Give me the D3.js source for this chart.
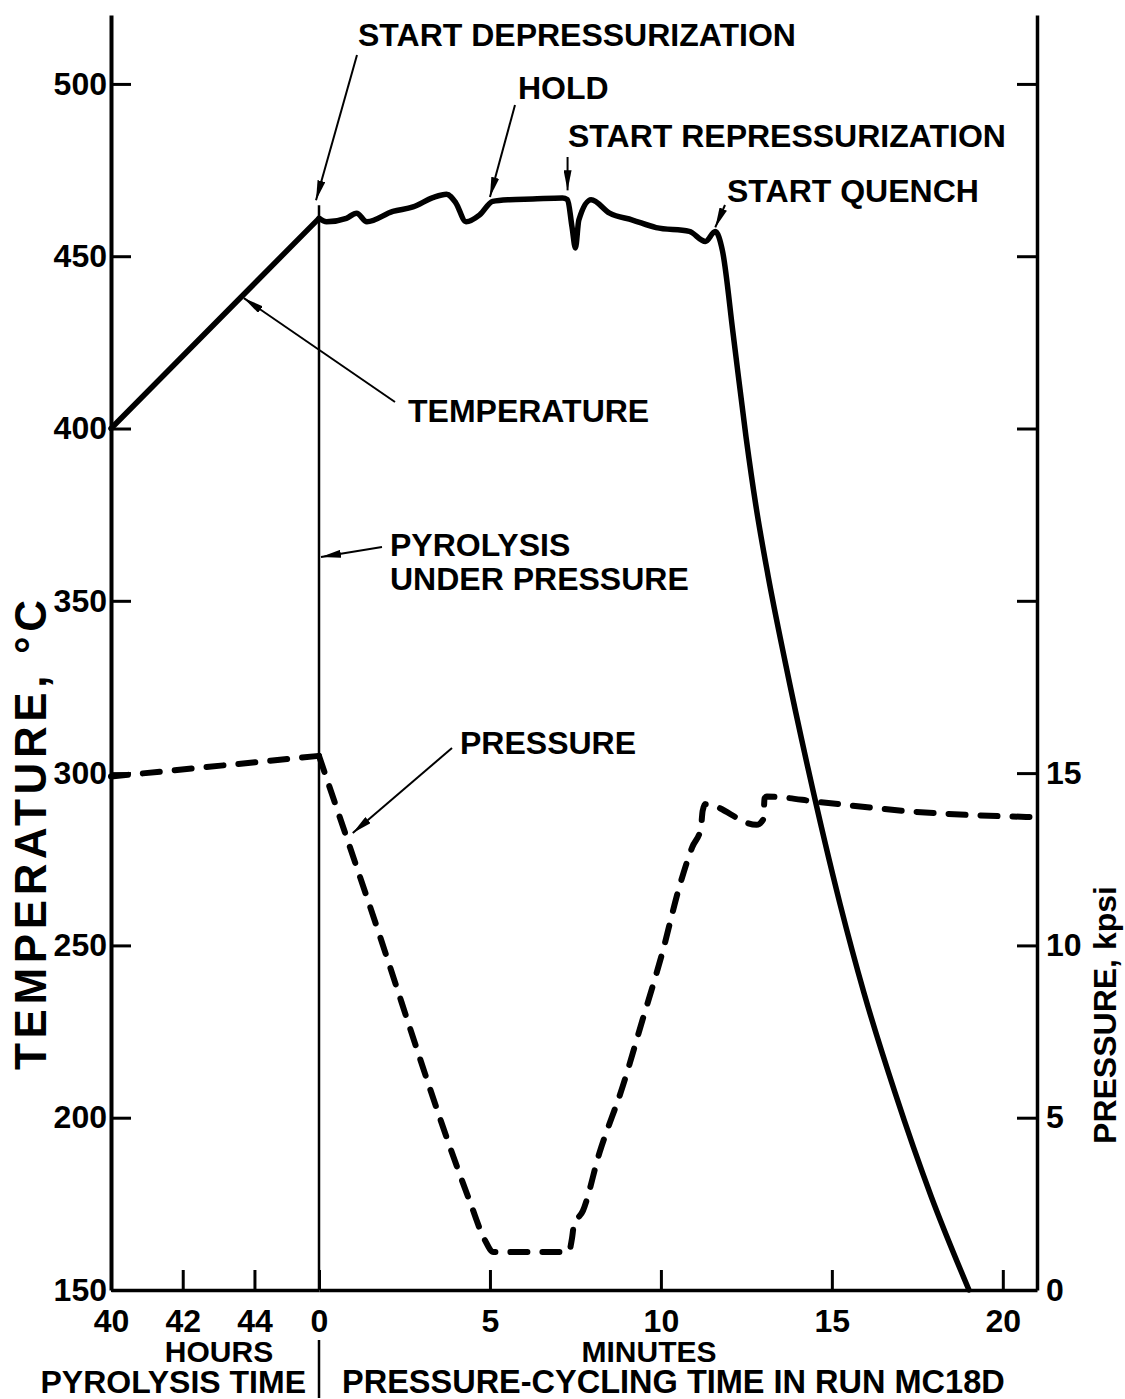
<!DOCTYPE html>
<html>
<head>
<meta charset="utf-8">
<script src="https://cdn.jsdelivr.net/npm/d3@7"></script>
<style>
  body { margin: 0; background: #fff; }
  text { font-family: "Liberation Sans", Arial, Helvetica, sans-serif; font-weight: bold; fill: #000; }
</style>
</head>
<body>
<svg id="chart"></svg>
<script>
// ---- data ----
// pyrolysis part (hours)
var breakHour = 45.8;
var hourTicks = [40, 42, 44];
var tempHours = [40, breakHour];
var tempHoursVal = [400, 461];
var presHours = [40, breakHour];
var presHoursVal = [14.9, 15.5];

// pressure-cycling part (minutes)
var minuteTicks = [0, 5, 10, 15, 20];
var tempMin = [0, 0.22, 0.8, 1.1, 1.4, 2.16, 2.75, 3.33, 3.73, 4.0, 4.3, 4.7, 5.08, 5.57, 6.25, 7.12, 7.27,
               7.4, 7.5, 7.6, 7.96, 8.5, 9.17, 9.86, 10.83, 11.3, 11.59, 11.8, 12.11, 12.49, 12.78, 13.13,
               13.63, 14.3, 15.24, 15.94, 16.85, 17.9, 19.01];
var tempMinVal = [461, 460, 461, 462.5, 460, 463, 464.3, 467, 468, 465.5, 460, 462, 465.9, 466.4, 466.6, 466.9, 466.4,
                  458.5, 452.4, 460.5, 466.4, 462.5, 460.5, 458.3, 457.2, 454.3, 457.2, 451.6, 427.7, 397.5, 377.5, 357.5,
                  332.5, 301.5, 262, 236.2, 207.2, 177.3, 150];
var presMin = [0, 1.4, 4.4, 4.85, 5.1, 7.3, 7.4, 7.45, 7.72, 8.2, 8.88, 9.46, 10.04, 10.54, 10.92, 11.17, 11.22,
               11.3, 12.8, 13.0, 13.03, 13.1, 14.65, 17.4, 21];
var presMinVal = [15.5, 11.4, 2.6, 1.45, 1.1, 1.1, 1.5, 1.85, 2.3, 3.97, 5.9, 7.83, 9.78, 11.7, 12.86, 13.4, 13.9,
                  14.1, 13.5, 13.67, 14.26, 14.32, 14.16, 13.88, 13.72];

var tempTicks = [150, 200, 250, 300, 350, 400, 450, 500];
var presTicks = [0, 5, 10, 15, 20, 25, 30, 35];
var presLabelled = [0, 5, 10, 15];

var W = 1125, H = 1399;
var svg = d3.select("#chart").attr("width", W).attr("height", H);
svg.append("rect").attr("width", W).attr("height", H).attr("fill", "#fff");

var xh = d3.scaleLinear().domain([40, breakHour]).range([111, 319]);
var xm = d3.scaleLinear().domain([0, 21]).range([319, 1037]);
var yT = d3.scaleLinear().domain([150, 520]).range([1290, 15]);
var yP = d3.scaleLinear().domain([0, 37]).range([1290, 15]);

function styleAxis(g, domainW) {
  g.attr("font-family", null).attr("font-size", null);
  g.select(".domain").attr("stroke", "#000").attr("stroke-width", domainW);
  g.selectAll(".tick line").attr("stroke", "#000").attr("stroke-width", 3);
  g.selectAll(".tick text").style("font-size", "32px");
}

// left axis, temperature
svg.append("g")
  .attr("transform", "translate(111,0)")
  .call(d3.axisLeft(yT).tickValues(tempTicks).tickSize(-20).tickSizeOuter(0).tickPadding(4))
  .call(styleAxis, 4);

// right axis, pressure
svg.append("g")
  .attr("transform", "translate(1037,0)")
  .call(d3.axisRight(yP).tickValues(presTicks).tickSize(-20).tickSizeOuter(0).tickPadding(9)
        .tickFormat(function(d) { return presLabelled.indexOf(d) >= 0 ? d : ""; }))
  .call(styleAxis, 3.5);

// bottom axes
svg.append("g")
  .attr("transform", "translate(0,1290)")
  .call(d3.axisBottom(xh).tickValues(hourTicks).tickFormat(d3.format("d"))
        .tickSize(-20).tickSizeOuter(0).tickPadding(19))
  .call(styleAxis, 3.5);
svg.append("g")
  .attr("transform", "translate(0,1290)")
  .call(d3.axisBottom(xm).tickValues(minuteTicks).tickFormat(d3.format("d"))
        .tickSize(-20).tickSizeOuter(0).tickPadding(19))
  .call(styleAxis, 3.5);

// vertical line at start of pressure cycling
svg.append("line")
  .attr("x1", xm(0)).attr("x2", xm(0))
  .attr("y1", yT(461) - 13).attr("y2", 1290)
  .attr("stroke", "#000").attr("stroke-width", 2.5);
svg.append("line")
  .attr("x1", xm(0)).attr("x2", xm(0))
  .attr("y1", 1340).attr("y2", 1398)
  .attr("stroke", "#000").attr("stroke-width", 2.5);

// temperature
var lineLin = d3.line().x(function(d) { return d[0]; }).y(function(d) { return d[1]; });
var lineMono = d3.line().x(function(d) { return d[0]; }).y(function(d) { return d[1]; }).curve(d3.curveMonotoneX);

svg.append("path")
  .attr("d", lineLin(tempHours.map(function(h, i) { return [xh(h), yT(tempHoursVal[i])]; })))
  .attr("fill", "none").attr("stroke", "#000").attr("stroke-width", 5.5).attr("stroke-linecap", "round");
svg.append("path")
  .attr("d", lineMono(tempMin.map(function(m, i) { return [xm(m), yT(tempMinVal[i])]; })))
  .attr("fill", "none").attr("stroke", "#000").attr("stroke-width", 5.5)
  .attr("stroke-linejoin", "round").attr("stroke-linecap", "round");

// pressure (dashed)
svg.append("path")
  .attr("d", lineLin(presHours.map(function(h, i) { return [xh(h), yP(presHoursVal[i])]; })))
  .attr("fill", "none").attr("stroke", "#000").attr("stroke-width", 6)
  .attr("stroke-dasharray", "17,15").attr("stroke-linecap", "round");
svg.append("path")
  .attr("d", lineMono(presMin.map(function(m, i) { return [xm(m), yP(presMinVal[i])]; })))
  .attr("fill", "none").attr("stroke", "#000").attr("stroke-width", 6)
  .attr("stroke-dasharray", "17,15").attr("stroke-linecap", "round").attr("stroke-linejoin", "round");

// arrow marker
svg.append("defs").append("marker")
  .attr("id", "arr").attr("markerUnits", "userSpaceOnUse")
  .attr("viewBox", "0 0 20 8").attr("refX", 20).attr("refY", 4)
  .attr("markerWidth", 20).attr("markerHeight", 8).attr("orient", "auto")
  .append("path").attr("d", "M0,0 L20,4 L0,8 Z").attr("fill", "#000");

var arrows = [
  [357, 55, xm(0) - 3, yT(461) - 18],
  [515, 105, xm(5), yT(466) - 4],
  [xm(7.27), 157, xm(7.27), yT(466.5) - 9],
  [725, 205, xm(11.59), yT(457.2) - 4],
  [395, 402, xh(43.65) + 2, yT(438.4) + 2],
  [382, 547, xm(0) + 2, 557],
  [452, 748, xm(0.9) + 3, yP(13.26)]
];
svg.selectAll(".arrow").data(arrows).enter().append("line")
  .attr("class", "arrow")
  .attr("x1", function(d) { return d[0]; }).attr("y1", function(d) { return d[1]; })
  .attr("x2", function(d) { return d[2]; }).attr("y2", function(d) { return d[3]; })
  .attr("stroke", "#000").attr("stroke-width", 2)
  .attr("marker-end", "url(#arr)");

// annotation texts
var notes = [
  ["START DEPRESSURIZATION", 358, 46],
  ["HOLD", 518, 99],
  ["START REPRESSURIZATION", 568, 147],
  ["START QUENCH", 727, 202],
  ["TEMPERATURE", 408, 422],
  ["PYROLYSIS", 390, 556],
  ["UNDER PRESSURE", 390, 590],
  ["PRESSURE", 460, 754]
];
svg.selectAll(".note").data(notes).enter().append("text")
  .attr("class", "note")
  .attr("x", function(d) { return d[1]; }).attr("y", function(d) { return d[2]; })
  .style("font-size", "32px")
  .text(function(d) { return d[0]; });

// axis titles
svg.append("text")
  .attr("transform", "translate(46,835) rotate(-90)")
  .attr("text-anchor", "middle").style("font-size", "44px")
  .attr("textLength", 470).attr("lengthAdjust", "spacing")
  .text("TEMPERATURE, °C");
svg.append("text")
  .attr("transform", "translate(1116,1015) rotate(-90)")
  .attr("text-anchor", "middle").style("font-size", "32px")
  .text("PRESSURE, kpsi");

svg.append("text").attr("x", 219).attr("y", 1362).attr("text-anchor", "middle")
  .style("font-size", "30px").text("HOURS");
svg.append("text").attr("x", 649).attr("y", 1362).attr("text-anchor", "middle")
  .style("font-size", "30px").text("MINUTES");
svg.append("text").attr("x", 306).attr("y", 1393).attr("text-anchor", "end")
  .style("font-size", "32px").text("PYROLYSIS TIME");
svg.append("text").attr("x", 342).attr("y", 1393)
  .style("font-size", "32.5px").text("PRESSURE-CYCLING TIME IN RUN MC18D");
</script>
</body>
</html>
